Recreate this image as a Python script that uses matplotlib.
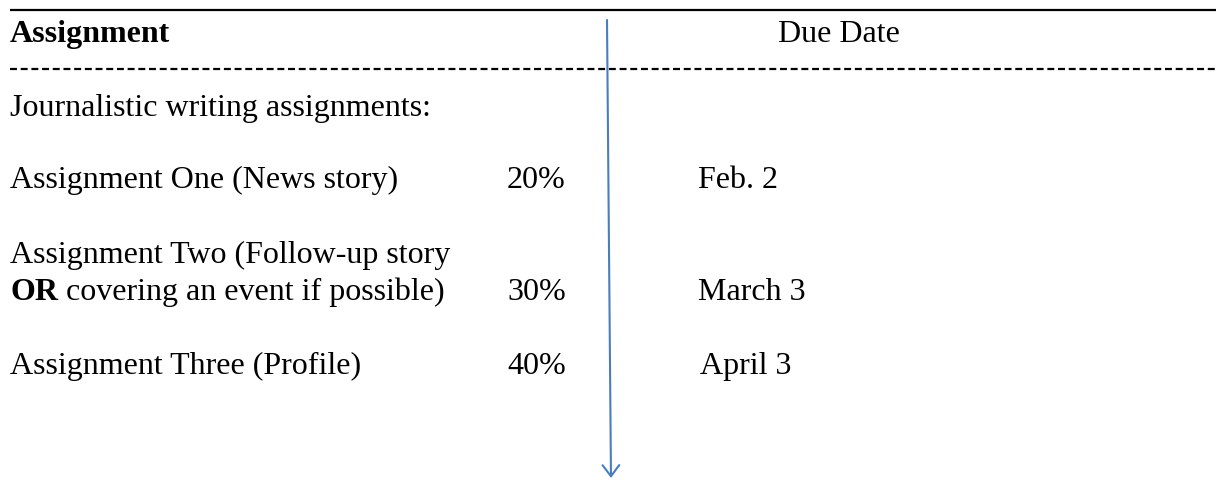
import matplotlib
matplotlib.use('Agg')
import matplotlib.pyplot as plt

plt.rcParams['font.family'] = ['Liberation Serif', 'DejaVu Serif']
plt.rcParams['lines.scale_dashes'] = False

header_left = 'Assignment'
header_right = 'Due Date'
section = 'Journalistic writing assignments:'
assignments = ['Assignment One (News story)',
               'Assignment Two (Follow-up story',
               'Assignment Three (Profile)']
assignment_two_tail = ' covering an event if possible)'
weights = ['20%', '30%', '40%']
due_dates = ['Feb. 2', 'March 3', 'April 3']

blue = '#4A7EBB'
fs = 23

fig = plt.figure(figsize=(12.16, 4.81), dpi=100)
ax = fig.add_axes([0, 0, 1, 1])
ax.set_xlim(0, 1216)
ax.set_ylim(481, 0)
ax.axis('off')

# rules
ax.plot([10, 1216], [11, 11], color='black', lw=1.6, solid_capstyle='butt')
ax.plot([10, 1216], [70, 70], color='black', lw=1.6,
        linestyle=(0, (5.0, 2.7)), dash_capstyle='butt')

# header
ax.text(10, 42, header_left, fontsize=fs, fontweight='bold', va='baseline')
ax.text(778, 42, header_right, fontsize=fs, va='baseline')
ax.text(10, 116, section, fontsize=fs, va='baseline')

# rows (baselines)
rows_y = [188, 300, 374]
ax.text(10, rows_y[0], assignments[0], fontsize=fs, va='baseline')
ax.text(10, 263, assignments[1], fontsize=fs, va='baseline')
t_or = ax.text(10, rows_y[1], 'OR', fontsize=fs, fontweight='bold', va='baseline')
ax.annotate(assignment_two_tail, xy=(1, 0), xycoords=t_or, fontsize=fs,
            va='bottom', ha='left')
ax.text(10, rows_y[2], assignments[2], fontsize=fs, va='baseline')

date_x = [698, 698, 700]
for y, w, d, dx in zip(rows_y, weights, due_dates, date_x):
    ax.text(507, y, w, fontsize=fs, va='baseline')
    ax.text(dx, y, d, fontsize=fs, va='baseline')

# blue arrow
ax.annotate('', xy=(611, 479), xytext=(607, 21),
            arrowprops=dict(arrowstyle='->, head_length=0.8, head_width=0.6',
                            color=blue, lw=1.5, shrinkA=0, shrinkB=0,
                            mutation_scale=10))

fig.savefig('out.png', dpi=100)
